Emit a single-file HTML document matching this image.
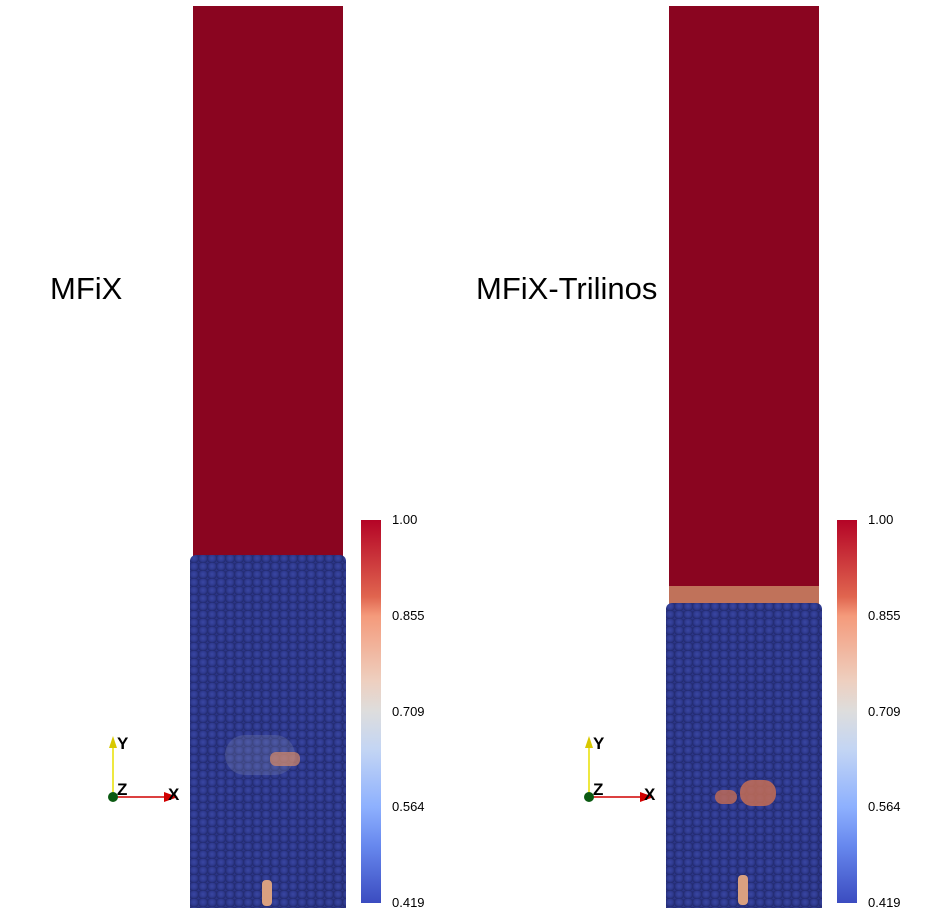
<!DOCTYPE html>
<html><head><meta charset="utf-8"><style>
html,body{margin:0;padding:0;background:#fff;width:952px;height:912px;overflow:hidden;position:relative;font-family:"Liberation Sans","DejaVu Sans",sans-serif}
.abs{position:absolute}
.title{font-size:31px;color:#000}
.red{background:#8a0520}
.bed{background-color:#2b3587;background-image:radial-gradient(circle at 45% 40%,#3a47a3 0,#2f3a8f 3px,#222a6e 5px,rgba(0,0,0,0) 5.5px);background-size:9px 8px}
.cb{background:linear-gradient(to bottom,#b40426 0%,#e0654f 20%,#f49a7b 25%,#eecfbf 42%,#dddddd 50%,#c3d5f4 60%,#8db0fe 75%,#6788ee 85%,#3b4cc0 100%)}
.tick{font-size:13px;color:#000}
</style></head><body>
<div class="abs title" style="left:50px;top:271px">MFiX</div>
<div class="abs title" style="left:476px;top:271px">MFiX-Trilinos</div>

<div class="abs red" style="left:193px;top:6px;width:150px;height:552px"></div>
<div class="abs bed" style="left:190px;top:555px;width:156px;height:353px;border-radius:6px 6px 0 0"></div>
<div class="abs" style="left:225px;top:735px;width:70px;height:40px;background:#8d95b5;border-radius:20px;opacity:.25"></div>
<div class="abs" style="left:270px;top:752px;width:30px;height:14px;background:#d58a6a;border-radius:6px;opacity:.7"></div>
<div class="abs" style="left:262px;top:880px;width:10px;height:26px;background:#d9a080;border-radius:4px"></div>

<div class="abs red" style="left:669px;top:6px;width:150px;height:580px"></div>
<div class="abs" style="left:669px;top:586px;width:150px;height:20px;background:#c0725a"></div>
<div class="abs bed" style="left:666px;top:603px;width:156px;height:305px;border-radius:6px 6px 0 0"></div>
<div class="abs" style="left:740px;top:780px;width:36px;height:26px;background:#c46d55;border-radius:12px;opacity:.85"></div>
<div class="abs" style="left:715px;top:790px;width:22px;height:14px;background:#c46d55;border-radius:8px;opacity:.8"></div>
<div class="abs" style="left:738px;top:875px;width:10px;height:30px;background:#d9a080;border-radius:4px"></div>

<div class="abs cb" style="left:361px;top:520px;width:20px;height:383px"></div>
<div class="abs cb" style="left:837px;top:520px;width:20px;height:383px"></div>
<div id="ticks"></div>

<svg class="abs" style="left:0;top:0" width="952" height="912">
<g font-family="Liberation Sans,sans-serif" font-size="17" font-weight="bold">
<line x1="113" y1="797" x2="113" y2="745" stroke="#e8e000" stroke-width="1.5"/>
<polygon points="109,748 117,748 113,736" fill="#d8c800"/>
<line x1="113" y1="797" x2="168" y2="797" stroke="#d00000" stroke-width="1.5"/>
<polygon points="164,792 164,802 178,797" fill="#d00000"/>
<circle cx="113" cy="797" r="5" fill="#0b5a12"/>
<text x="117" y="749">Y</text>
<text x="117" y="795">Z</text>
<text x="168" y="800">X</text>
</g>
<g font-family="Liberation Sans,sans-serif" font-size="17" font-weight="bold">
<line x1="589" y1="797" x2="589" y2="745" stroke="#e8e000" stroke-width="1.5"/>
<polygon points="585,748 593,748 589,736" fill="#d8c800"/>
<line x1="589" y1="797" x2="644" y2="797" stroke="#d00000" stroke-width="1.5"/>
<polygon points="640,792 640,802 654,797" fill="#d00000"/>
<circle cx="589" cy="797" r="5" fill="#0b5a12"/>
<text x="593" y="749">Y</text>
<text x="593" y="795">Z</text>
<text x="644" y="800">X</text>
</g>
</svg>
<script>
const tickValues=[1.00,0.855,0.709,0.564,0.419];
const tickLabels=["1.00","0.855","0.709","0.564","0.419"];
const gradStops=[0.419,1.00];
const cbTop=520,cbBot=903;
function yScale(v){return cbBot-(v-gradStops[0])/(gradStops[1]-gradStops[0])*(cbBot-cbTop);}
const host=document.getElementById('ticks');
[392,868].forEach(function(x){
  tickValues.forEach(function(v,i){
    const d=document.createElement('div');
    d.className='abs tick';
    
    
    d.style.left=x+'px';
    d.style.top=(yScale(v)-8)+'px';
    d.textContent=tickLabels[i];
    host.appendChild(d);
  });
});
</script>
</body></html>
